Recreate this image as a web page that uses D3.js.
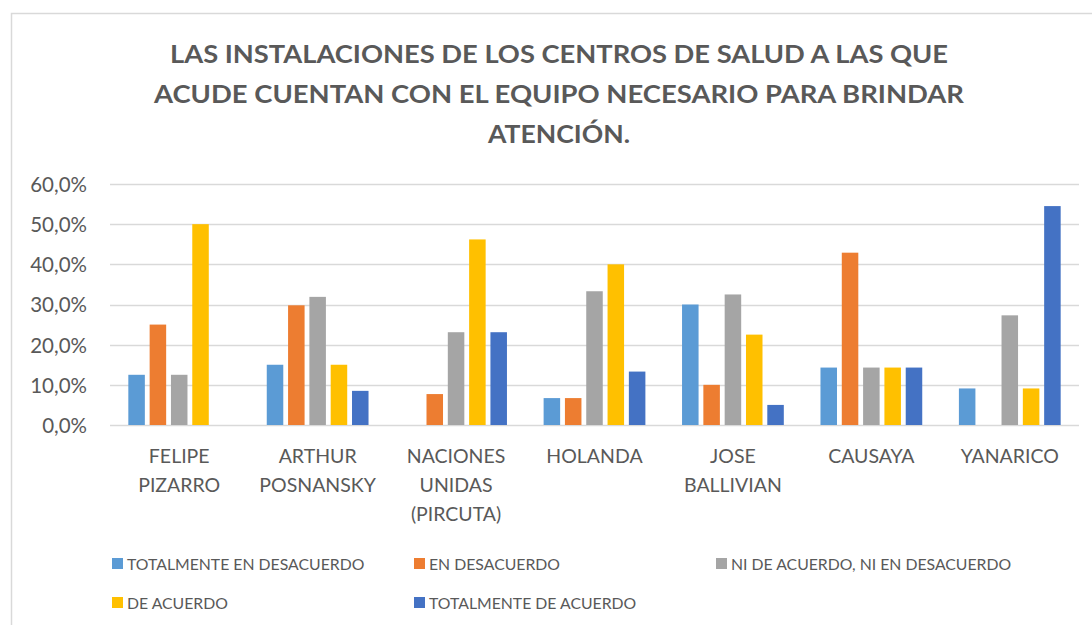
<!DOCTYPE html>
<html><head><meta charset="utf-8">
<script src="https://cdn.jsdelivr.net/npm/d3@7"></script>
<style>
html,body{margin:0;padding:0;background:#fff;}
svg{display:block;}
text{font-family:Lato,"Open Sans",sans-serif;fill:#595959;}
</style></head>
<body>
<svg id="chart" width="1092" height="625"></svg>
<script>
const titleLines = ["LAS INSTALACIONES DE LOS CENTROS DE SALUD A LAS QUE","ACUDE CUENTAN CON EL EQUIPO NECESARIO PARA BRINDAR","ATENCIÓN."];
const categories = [["FELIPE","PIZARRO"],["ARTHUR","POSNANSKY"],["NACIONES","UNIDAS","(PIRCUTA)"],["HOLANDA"],["JOSE","BALLIVIAN"],["CAUSAYA"],["YANARICO"]];
const seriesNames = ["TOTALMENTE EN DESACUERDO","EN DESACUERDO","NI DE ACUERDO, NI EN DESACUERDO","DE ACUERDO","TOTALMENTE DE ACUERDO"];
const seriesColors = ["#5B9BD5","#ED7D31","#A5A5A5","#FFC000","#4472C4"];
const totalDesacuerdo = [12.5,15.0,0,6.7,30.0,14.3,9.1];
const enDesacuerdo   = [25.0,29.8,7.7,6.7,10.0,42.9,0];
const niNi           = [12.5,31.9,23.1,33.3,32.5,14.3,27.3];
const deAcuerdo      = [50.0,15.0,46.2,40.0,22.5,14.3,9.1];
const totalAcuerdo   = [0,8.5,23.1,13.3,5.0,14.3,54.5];
const yTicks = [0,10,20,30,40,50,60];

(function(){
const seriesValues = [totalDesacuerdo,enDesacuerdo,niNi,deAcuerdo,totalAcuerdo];
const catKeys = categories.map(c=>c.join(" "));

const svg = d3.select("#chart");
svg.append("rect").attr("x",11.5).attr("y",13.5).attr("width",1100).attr("height",700)
  .attr("fill","none").attr("stroke","#d9d9d9").attr("stroke-width",1.5);

const titleW = [778, 810, 142];
const tg = svg.append("g");
titleLines.forEach((t,i)=>{
  tg.append("text").attr("x",559).attr("y",63+i*40).attr("text-anchor","middle")
    .style("font-size","25px").style("font-weight","bold").text(t)
    .attr("textLength",titleW[i]).attr("lengthAdjust","spacingAndGlyphs");
});

const pl=110, pr=1079, pt=184, pb=425;
const x0 = d3.scaleBand().domain(catKeys).range([pl,pr]).padding(0);
const x1 = d3.scaleBand().domain(d3.range(5)).range([0,x0.bandwidth()]).paddingInner(0.225).paddingOuter(0.86);
const y = d3.scaleLinear().domain([0,60]).range([pb,pt]);

svg.append("g").selectAll("line").data(yTicks).join("line")
  .attr("x1",pl).attr("x2",pr).attr("y1",d=>Math.round(y(d))+0.5).attr("y2",d=>Math.round(y(d))+0.5)
  .attr("stroke","#d9d9d9").attr("stroke-width",1.3);

const yAxis = d3.axisLeft(y).tickValues(yTicks).tickSize(0).tickPadding(0)
  .tickFormat(d=>d.toFixed(1).replace(".",",")+"%");
const ya = svg.append("g").attr("transform",`translate(87,0)`).call(yAxis);
ya.select(".domain").remove();
ya.selectAll("text").style("font-size","20.5px").style("font-family","Lato,'Open Sans',sans-serif").attr("fill","#595959").attr("dy","0.36em");

const groups = svg.append("g").selectAll("g").data(catKeys).join("g")
  .attr("transform",d=>`translate(${x0(d)},0)`);
groups.selectAll("rect").data((d,ci)=>seriesValues.map((s,si)=>({si,v:s[ci]}))).join("rect")
  .attr("x",d=>x1(d.si)).attr("width",x1.bandwidth())
  .attr("y",d=>y(d.v)).attr("height",d=>y(0)-y(d.v))
  .attr("fill",d=>seriesColors[d.si]);

categories.forEach((lines,ci)=>{
  const cx = x0(catKeys[ci]) + x0.bandwidth()/2;
  lines.forEach((l,li)=>{
    svg.append("text").attr("x",cx).attr("y",463+li*29).attr("text-anchor","middle")
      .style("font-size","19.5px").text(l);
  });
});

const legendPos = [[112,564],[414,564],[716,564],[112,603],[414,603]];
const lg = svg.append("g");
seriesNames.forEach((n,i)=>{
  const [lx,ly] = legendPos[i];
  lg.append("rect").attr("x",lx).attr("y",ly-6).attr("width",11).attr("height",11).attr("fill",seriesColors[i]);
  lg.append("text").attr("x",lx+15).attr("y",ly).attr("dy","0.36em").style("font-size","15.8px").text(n);
});
})();
</script>
</body></html>
